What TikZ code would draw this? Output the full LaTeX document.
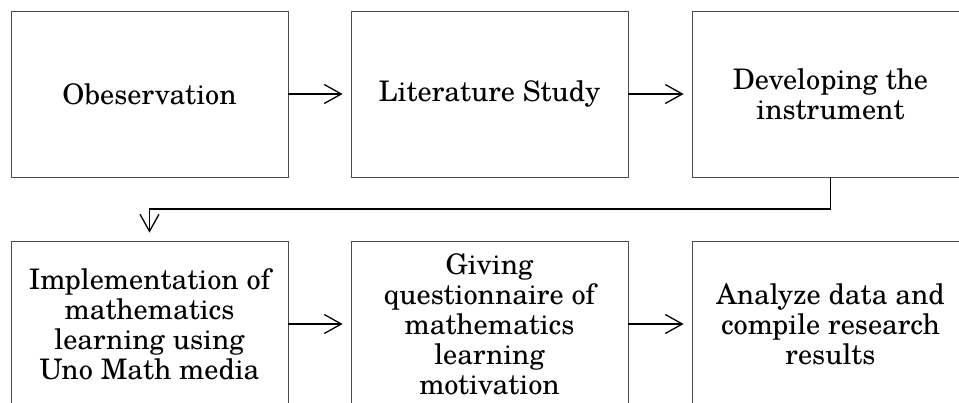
\documentclass[tikz,border=0pt]{standalone}
\usepackage{fontspec}
\setmainfont{texgyreschola}[Extension=.otf,UprightFont=*-regular,BoldFont=*-bold,ItalicFont=*-italic,BoldItalicFont=*-bolditalic]
\usetikzlibrary{arrows.meta}
\begin{document}
\begin{tikzpicture}[x=1pt,y=-1pt,
  stepbox/.style={draw=black!70,line width=0.8pt,minimum width=277pt,minimum height=166pt,
    align=center,inner sep=0pt,font=\fontsize{28.3}{30}\selectfont},
  conn/.style={line width=1.3pt,-{Straight Barb[length=17pt,width=19pt,line width=1.3pt]}}]
\useasboundingbox (0,0) rectangle (959,403);
\clip (0,0) rectangle (959,403);
\fill[white] (0,0) rectangle (959,403);
\node[stepbox] (b1) at (149.5,94) {Obeservation};
\node[stepbox] (b2) at (489.5,94) {Literature Study};
\node[stepbox] (b3) at (830.5,94) {Developing the\\instrument};
\node[stepbox] (b4) at (149.5,324) {Implementation of\\mathematics\\learning using\\Uno Math media};
\node[stepbox] (b5) at (489.5,324) {Giving\\questionnaire of\\mathematics\\learning\\motivation};
\node[stepbox] (b6) at (830.5,324) {Analyze data and\\compile research\\results};
\draw[conn,shorten >=8pt] (b1) -- (b2);
\draw[conn,shorten >=8pt] (b2) -- (b3);
\draw[conn,shorten >=8pt] (b4) -- (b5);
\draw[conn,shorten >=8pt] (b5) -- (b6);
\coordinate (c1) at (830.5,209);
\coordinate (c2) at (149.5,209);
\draw[conn,shorten >=8pt] (b3.south) -- (c1) -- (c2) -- (b4.north);
\end{tikzpicture}
\end{document}
